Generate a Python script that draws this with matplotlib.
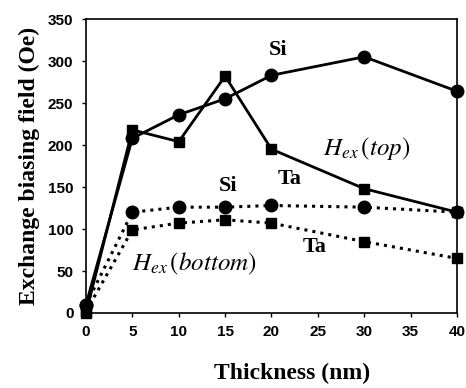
import matplotlib
matplotlib.use("Agg")
import matplotlib.pyplot as plt

thickness = [0, 5, 10, 15, 20, 30, 40]
si_top = [10, 208, 236, 255, 283, 305, 264]
ta_top = [0, 218, 204, 282, 195, 148, 120]
si_bottom = [10, 120, 126, 126, 128, 126, 120]
ta_bottom = [2, 99, 107, 111, 107, 85, 65]

xticks = [0, 5, 10, 15, 20, 25, 30, 35, 40]
yticks = [0, 50, 100, 150, 200, 250, 300, 350]

fig = plt.figure(figsize=(4.66, 3.88), dpi=100)
ax = fig.add_axes([0.1845, 0.1933, 0.7962, 0.7577])

ax.plot(thickness, si_top, '-', color='black', lw=2, marker='o', ms=9, clip_on=False, zorder=3)
ax.plot(thickness, ta_top, '-', color='black', lw=2, marker='s', ms=7.5, clip_on=False, zorder=3)
ax.plot(thickness, si_bottom, ':', color='black', lw=2.2, marker='o', ms=9, clip_on=False, zorder=3)
ax.plot(thickness, ta_bottom, ':', color='black', lw=2.2, marker='s', ms=7.5, clip_on=False, zorder=3)

ax.set_xlim(0, 40)
ax.set_ylim(0, 350)
ax.set_xticks(xticks)
ax.set_yticks(yticks)
for lab in ax.get_xticklabels() + ax.get_yticklabels():
    lab.set_fontfamily('Liberation Sans')
    lab.set_fontweight('bold')
    lab.set_fontsize(11)
ax.tick_params(direction='out', length=3, width=1, pad=6)

for s in ax.spines.values():
    s.set_linewidth(1.2)

serif = 'Liberation Serif'
ax.set_xlabel('Thickness (nm)', fontfamily=serif, fontweight='bold', fontsize=17)
ax.xaxis.set_label_coords(0.555, -0.17)
ax.set_ylabel('Exchange biasing field (Oe)', fontfamily=serif, fontweight='bold', fontsize=17, labelpad=6)

tk = dict(fontfamily=serif, fontweight='bold', fontsize=16, ha='center', va='center')
ax.text(20.7, 313, 'Si', **tk)
ax.text(22.0, 160, 'Ta', **tk)
ax.text(15.3, 151, 'Si', **tk)
ax.text(24.7, 79, 'Ta', **tk)

ax.text(25.6, 196, r'$H_{ex}\,(top)$', fontsize=18, ha='left', va='center',
        math_fontfamily='stix')
ax.text(5.0, 58, r'$H_{ex}\,(bottom)$', fontsize=18, ha='left', va='center',
        math_fontfamily='stix')

fig.savefig('out.png', dpi=100)
